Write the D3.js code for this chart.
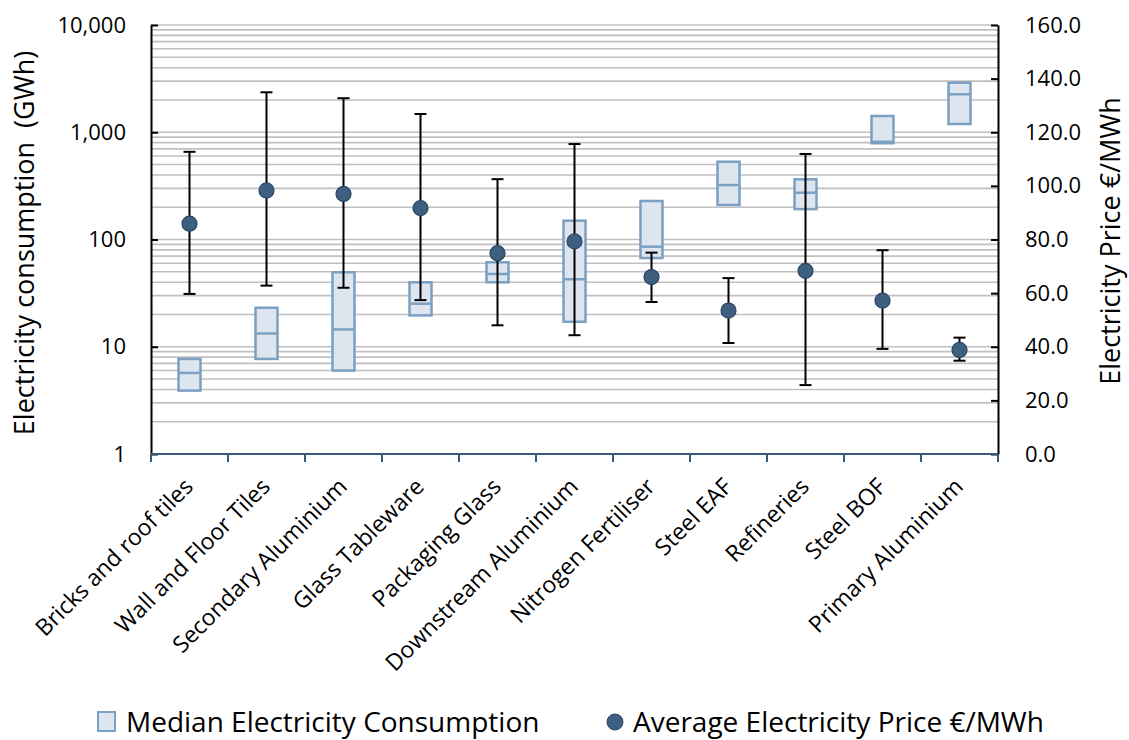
<!DOCTYPE html>
<html lang="en">
  <head>
    <meta charset="UTF-8" />
    <title>Electricity consumption and price</title>
    <script src="https://cdn.jsdelivr.net/npm/d3@7/dist/d3.min.js"></script>
    <style>
      html,
      body {
        margin: 0;
        padding: 0;
        background: #fff;
      }
      svg {
        display: block;
        font-family: 'Open Sans', sans-serif;
      }
    </style>
  </head>
  <body>
    <svg width="1129" height="740"></svg>
    <script>
      const categories = [
        'Bricks and roof tiles',
        'Wall and Floor Tiles',
        'Secondary Aluminium',
        'Glass Tableware',
        'Packaging Glass',
        'Downstream Aluminium',
        'Nitrogen Fertiliser',
        'Steel EAF',
        'Refineries',
        'Steel BOF',
        'Primary Aluminium'
      ];

      // consumption box (GWh): lower edge, median, upper edge
      const consLow = [3.9, 7.7, 6.0, 19.6, 39.9, 17.1, 67.2, 210, 192, 790, 1194];
      const consMedian = [5.7, 13.3, 14.5, 25.2, 47.7, 42.6, 85.7, 322, 273, 815, 2259];
      const consHigh = [7.7, 23.1, 49.5, 39.9, 61.3, 149.8, 228.6, 531, 364, 1418, 2897];

      // price (EUR/MWh): average with min / max whiskers
      const priceAvg = [85.9, 98.3, 97.0, 91.7, 74.9, 79.3, 66.0, 53.5, 68.3, 57.2, 38.8];
      const priceMin = [59.7, 62.8, 62.0, 57.4, 48.0, 44.3, 56.7, 41.4, 25.7, 39.2, 34.8];
      const priceMax = [112.7, 134.9, 132.7, 126.8, 102.5, 115.6, 75.1, 65.6, 111.9, 76.0, 43.4];

      const consTicks = [1, 10, 100, 1000, 10000];
      const priceTicks = [0, 20, 40, 60, 80, 100, 120, 140, 160];

      const svg = d3.select('svg');
      const plotLeft = 151,
        plotRight = 998,
        plotTop = 25,
        plotBottom = 454;

      const x = d3.scaleBand().domain(categories).range([plotLeft, plotRight]);
      const yCons = d3.scaleLog().domain([1, 10000]).range([plotBottom, plotTop]);
      const yPrice = d3.scaleLinear().domain([0, 160]).range([plotBottom, plotTop]);

      const boxFill = '#dde6ef';
      const boxStroke = '#7ba0c1';
      const dotFill = '#3e5f80';

      // gridlines on every log tick
      svg
        .append('g')
        .selectAll('line')
        .data(yCons.ticks().filter(d => d > 1))
        .join('line')
        .attr('x1', plotLeft)
        .attr('x2', plotRight)
        .attr('y1', d => yCons(d))
        .attr('y2', d => yCons(d))
        .attr('stroke', '#c0c0c0')
        .attr('stroke-width', 1.6);

      const rows = categories.map((c, i) => ({
        c,
        lo: consLow[i],
        med: consMedian[i],
        hi: consHigh[i],
        avg: priceAvg[i],
        min: priceMin[i],
        max: priceMax[i]
      }));
      const cx = d => x(d.c) + x.bandwidth() / 2;
      const boxW = 22;

      // boxes
      const boxes = svg.append('g').selectAll('g').data(rows).join('g');
      boxes
        .append('rect')
        .attr('x', d => cx(d) - boxW / 2)
        .attr('y', d => yCons(d.hi))
        .attr('width', boxW)
        .attr('height', d => yCons(d.lo) - yCons(d.hi))
        .attr('fill', boxFill)
        .attr('stroke', boxStroke)
        .attr('stroke-width', 2.5);
      boxes
        .append('line')
        .attr('x1', d => cx(d) - boxW / 2)
        .attr('x2', d => cx(d) + boxW / 2)
        .attr('y1', d => yCons(d.med))
        .attr('y2', d => yCons(d.med))
        .attr('stroke', boxStroke)
        .attr('stroke-width', 2.5);

      // price whiskers
      const bars = svg.append('g').attr('stroke', '#000').attr('stroke-width', 2);
      bars
        .selectAll('line.v')
        .data(rows)
        .join('line')
        .attr('class', 'v')
        .attr('x1', cx)
        .attr('x2', cx)
        .attr('y1', d => yPrice(d.max))
        .attr('y2', d => yPrice(d.min));
      ['max', 'min'].forEach(k => {
        bars
          .selectAll('line.' + k)
          .data(rows)
          .join('line')
          .attr('class', k)
          .attr('x1', d => cx(d) - 6)
          .attr('x2', d => cx(d) + 6)
          .attr('y1', d => yPrice(d[k]))
          .attr('y2', d => yPrice(d[k]));
      });

      svg
        .append('g')
        .selectAll('circle')
        .data(rows)
        .join('circle')
        .attr('cx', cx)
        .attr('cy', d => yPrice(d.avg))
        .attr('r', 7.5)
        .attr('fill', dotFill)
        .attr('stroke', '#2a4765')
        .attr('stroke-width', 1.2);

      // axes
      const yAxisL = svg
        .append('g')
        .attr('transform', `translate(${plotLeft},0)`)
        .call(
          d3
            .axisLeft(yCons)
            .tickValues(consTicks)
            .tickFormat(d3.format(','))
            .tickSizeInner(-7)
            .tickSizeOuter(0)
            .tickPadding(25)
        );
      const yAxisR = svg
        .append('g')
        .attr('transform', `translate(${plotRight},0)`)
        .call(
          d3
            .axisRight(yPrice)
            .tickValues(priceTicks)
            .tickFormat(d3.format('.1f'))
            .tickSizeInner(-7)
            .tickSizeOuter(0)
            .tickPadding(27)
        );
      [yAxisL, yAxisR].forEach(g => {
        g.select('.domain').attr('stroke', '#000').attr('stroke-width', 2);
        g.selectAll('.tick line').attr('stroke', '#000').attr('stroke-width', 2);
        g.selectAll('.tick text')
          .attr('font-family', "'Open Sans', sans-serif")
          .attr('font-size', 22)
          .attr('fill', '#000');
      });

      // category axis with ticks on the band edges
      const xAxis = svg.append('g');
      xAxis
        .append('line')
        .attr('x1', plotLeft)
        .attr('x2', plotRight)
        .attr('y1', plotBottom)
        .attr('y2', plotBottom)
        .attr('stroke', '#3b5878')
        .attr('stroke-width', 2);
      xAxis
        .selectAll('line.edge')
        .data(categories.map(c => x(c)).concat([x.range()[1]]))
        .join('line')
        .attr('class', 'edge')
        .attr('x1', d => d)
        .attr('x2', d => d)
        .attr('y1', plotBottom)
        .attr('y2', plotBottom + 8)
        .attr('stroke', '#3b5878')
        .attr('stroke-width', 2);
      xAxis
        .selectAll('text')
        .data(categories)
        .join('text')
        .attr('transform', c => `translate(${x(c) + x.bandwidth() / 2 + 5},488) rotate(-45)`)
        .attr('text-anchor', 'end')
        .attr('font-size', 23)
        .text(c => c);

      // axis titles
      svg
        .append('text')
        .attr('transform', 'translate(34,243) rotate(-90)')
        .attr('text-anchor', 'middle')
        .attr('font-size', 27)
        .attr('xml:space', 'preserve')
        .text('Electricity consumption  (GWh)');
      svg
        .append('text')
        .attr('transform', 'translate(1120,241) rotate(-90)')
        .attr('text-anchor', 'middle')
        .attr('font-size', 27)
        .text('Electricity Price €/MWh');

      // legend
      const legend = svg.append('g').attr('font-size', 28);
      legend
        .append('rect')
        .attr('x', 98)
        .attr('y', 712)
        .attr('width', 17)
        .attr('height', 19)
        .attr('fill', boxFill)
        .attr('stroke', boxStroke)
        .attr('stroke-width', 2);
      legend.append('text').attr('x', 126).attr('y', 732).text('Median Electricity Consumption');
      legend
        .append('circle')
        .attr('cx', 615)
        .attr('cy', 722)
        .attr('r', 8)
        .attr('fill', dotFill)
        .attr('stroke', '#2a4765');
      legend.append('text').attr('x', 633).attr('y', 732).text('Average Electricity Price €/MWh');
    </script>
  </body>
</html>
